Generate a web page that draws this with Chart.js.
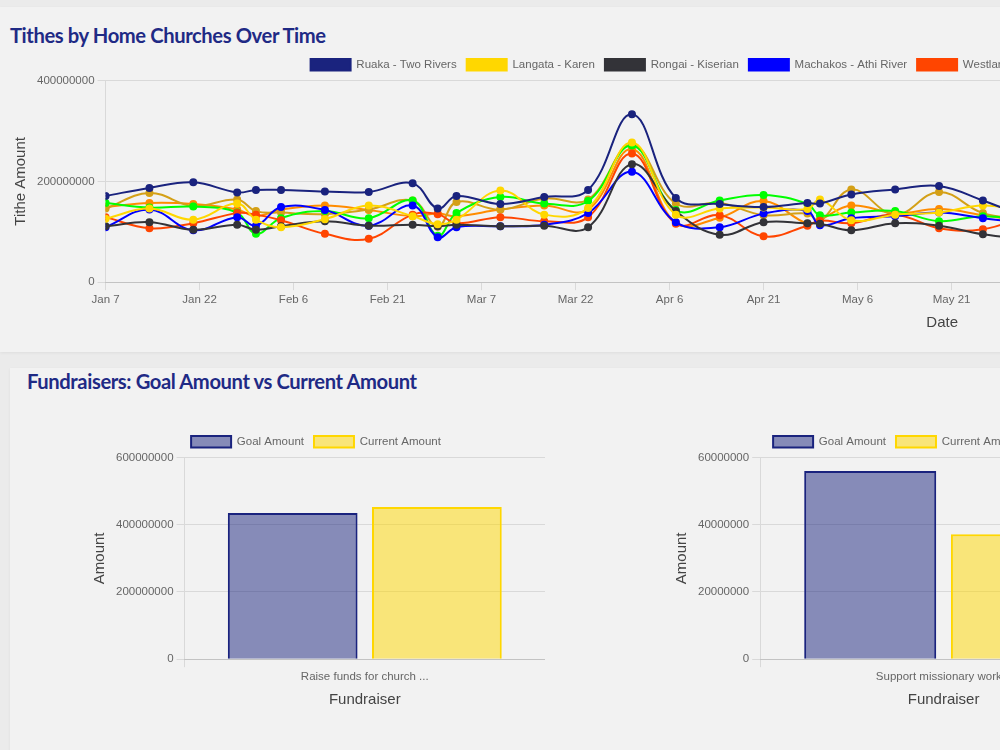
<!DOCTYPE html>
<html>
<head>
<meta charset="utf-8">
<script src="https://cdn.jsdelivr.net/npm/chart.js@4.4.0/dist/chart.umd.min.js"></script>
<style>
  html, body { margin: 0; padding: 0; overflow: hidden; }
  body { background: #ebebeb; width: 1900px; height: 750px; position: relative; }
  .card { position: absolute; background: #f2f2f2; box-shadow: 0 1px 3px rgba(0,0,0,0.06); }
  .card h2 {
    position: absolute; margin: 0; white-space: nowrap;
    font-family: Lato, sans-serif; font-weight: 700; font-size: 20.2px; line-height: 1.2;
    color: #1f2a85; letter-spacing: -0.4px;
  }
  .wrap { position: absolute; }
</style>
</head>
<body>

<div class="card" style="left:0;top:7px;width:1900px;height:345px">
  <h2 style="left:10px;top:16px">Tithes by Home Churches Over Time</h2>
  <div class="wrap" style="left:8px;top:42px;width:1792px;height:287px"><canvas id="tithesChart"></canvas></div>
</div>

<div class="card" style="left:10px;top:368px;width:1890px;height:420px">
  <h2 style="left:17px;top:1px">Fundraisers: Goal Amount vs Current Amount</h2>
  <div class="wrap" style="left:77px;top:58px;width:458px;height:287px"><canvas id="fundChart1"></canvas></div>
  <div class="wrap" style="left:659px;top:58px;width:458px;height:287px"><canvas id="fundChart2"></canvas></div>
</div>

<script>
// tithe dates (2024)
const titheDates = ['2024-01-07', '2024-01-14', '2024-01-21', '2024-01-28', '2024-01-31', '2024-02-04',
  '2024-02-11', '2024-02-18', '2024-02-25', '2024-02-29', '2024-03-03', '2024-03-10', '2024-03-17',
  '2024-03-24', '2024-03-31', '2024-04-07', '2024-04-14', '2024-04-21', '2024-04-28', '2024-04-30',
  '2024-05-05', '2024-05-12', '2024-05-19', '2024-05-26', '2024-06-02'];

const churchNames = ['Ruaka - Two Rivers', 'Langata - Karen', 'Rongai - Kiserian', 'Machakos - Athi River',
  'Westlands - Parklands', 'Kasarani - Mwiki', 'Kitengela - Syokimau', 'Thika - Juja'];
const churchColors = ['#1a237e', '#ffd700', '#333338', '#0000ff', '#ff4500', '#00ff00', '#d4a017', '#ff8c00'];

const ruaka = [171000000, 187000000, 198000000, 178000000, 183000000, 183000000, 180000000, 179000000, 196000000, 146000000, 171000000, 155000000, 169000000, 183000000, 333000000, 167000000, 155000000, 149000000, 157000000, 156000000, 174000000, 184000000, 191000000, 162000000, 128000000];
const langata = [126000000, 146000000, 124000000, 156000000, 124000000, 109000000, 125000000, 152000000, 131000000, 115000000, 124000000, 182000000, 134000000, 147000000, 277000000, 134000000, 146000000, 148000000, 145000000, 164000000, 123000000, 134000000, 138000000, 152000000, 140000000];
const rongai = [111000000, 119000000, 104000000, 114000000, 104000000, 111000000, 121000000, 112000000, 114000000, 111000000, 114000000, 111000000, 112000000, 109000000, 234000000, 141000000, 94000000, 119000000, 117000000, 116000000, 103000000, 117000000, 112000000, 95000000, 85000000];
const machakos = [109000000, 144000000, 103000000, 129000000, 112000000, 149000000, 143000000, 112000000, 152000000, 89000000, 109000000, 111000000, 114000000, 137000000, 219000000, 119000000, 109000000, 136000000, 141000000, 113000000, 127000000, 131000000, 138000000, 127000000, 118000000];
const westlands = [129000000, 107000000, 117000000, 137000000, 134000000, 123000000, 96000000, 86000000, 134000000, 135000000, 117000000, 129000000, 121000000, 129000000, 255000000, 116000000, 133000000, 91000000, 112000000, 122000000, 117000000, 134000000, 107000000, 105000000, 132000000];
const kasarani = [157000000, 148000000, 150000000, 138000000, 96000000, 127000000, 141000000, 127000000, 162000000, 92000000, 137000000, 169000000, 156000000, 161000000, 271000000, 143000000, 162000000, 173000000, 155000000, 133000000, 138000000, 141000000, 121000000, 131000000, 122000000];
const kitengela = [146000000, 177000000, 151000000, 164000000, 141000000, 138000000, 135000000, 144000000, 162000000, 110000000, 159000000, 144000000, 166000000, 164000000, 273000000, 156000000, 157000000, 133000000, 136000000, 121000000, 184000000, 134000000, 179000000, 137000000, 125000000];
const thika = [149000000, 157000000, 155000000, 144000000, 131000000, 144000000, 152000000, 143000000, 131000000, 136000000, 131000000, 144000000, 152000000, 144000000, 264000000, 118000000, 128000000, 161000000, 116000000, 124000000, 152000000, 137000000, 145000000, 133000000, 118000000];
const titheSeries = [ruaka, langata, rongai, machakos, westlands, kasarani, kitengela, thika];

// fundraisers
const fundraiser1Label = ['Raise funds for church ...'];
const fundraiser1Goal = [435000000];
const fundraiser1Current = [453000000];
const fundraiser2Label = ['Support missionary work...'];
const fundraiser2Goal = [56000000];
const fundraiser2Current = [37200000];

Chart.defaults.font.family = "'Liberation Sans', Arial, sans-serif";
Chart.defaults.font.size = 11.5;
Chart.defaults.color = '#666';

const DAY = 86400000;
const startDate = Date.UTC(2024, 0, 7);
const dayIndex = (s) => (Date.parse(s + 'T00:00:00Z') - startDate) / DAY;
const dayLabel = (v) => new Date(startDate + v * DAY).toLocaleDateString('en-US', { month: 'short', day: 'numeric', timeZone: 'UTC' });
const plainNumber = (v) => String(v);

// create line chart
const tithesCanvas = document.getElementById('tithesChart');

var lineChart = new Chart(tithesCanvas, {
  type: 'line',
  data: {
    datasets: churchNames.map((name, i) => ({
      label: name,
      data: titheDates.map((d, j) => ({ x: dayIndex(d), y: titheSeries[i][j] })),
      borderColor: churchColors[i],
      backgroundColor: churchColors[i],
      pointBackgroundColor: churchColors[i],
      borderWidth: 2,
      pointRadius: 3,
      pointBorderWidth: 2,
      tension: 0.4,
      fill: false
    }))
  },
  options: {
    animation: false,
    maintainAspectRatio: false,
    plugins: {
      legend: { display: true },
      tooltip: { enabled: false }
    },
    scales: {
      x: {
        type: 'linear',
        min: 0,
        max: 267,
        grid: { drawOnChartArea: false },
        ticks: { stepSize: 15, callback: (v) => dayLabel(v) },
        title: { display: true, text: 'Date', font: { size: 15 }, color: '#444' }
      },
      y: {
        min: 0,
        max: 400000000,
        ticks: { stepSize: 200000000, callback: plainNumber },
        title: { display: true, text: 'Tithe Amount', font: { size: 15 }, color: '#444' }
      }
    }
  }
});

// fundraiser bar charts
function fundChart(id, labels, goal, current, max, step) {
  return new Chart(document.getElementById(id), {
    type: 'bar',
    data: {
      labels: labels,
      datasets: [
        {
          label: 'Goal Amount',
          data: goal,
          backgroundColor: 'rgba(26, 35, 126, 0.5)',
          borderColor: '#1a237e',
          borderWidth: 2
        },
        {
          label: 'Current Amount',
          data: current,
          backgroundColor: 'rgba(255, 215, 0, 0.5)',
          borderColor: '#ffd700',
          borderWidth: 2
        }
      ]
    },
    options: {
      animation: false,
      maintainAspectRatio: false,
      plugins: { tooltip: { enabled: false } },
      scales: {
        x: {
          grid: { drawOnChartArea: false },
          title: { display: true, text: 'Fundraiser', font: { size: 15 }, color: '#444' }
        },
        y: {
          min: 0,
          max: max,
          ticks: { stepSize: step, callback: plainNumber },
          title: { display: true, text: 'Amount', font: { size: 15 }, color: '#444' }
        }
      }
    }
  });
}

var barChart1 = fundChart('fundChart1', fundraiser1Label, fundraiser1Goal, fundraiser1Current, 600000000, 200000000);
var barChart2 = fundChart('fundChart2', fundraiser2Label, fundraiser2Goal, fundraiser2Current, 60000000, 20000000);
</script>
</body>
</html>
